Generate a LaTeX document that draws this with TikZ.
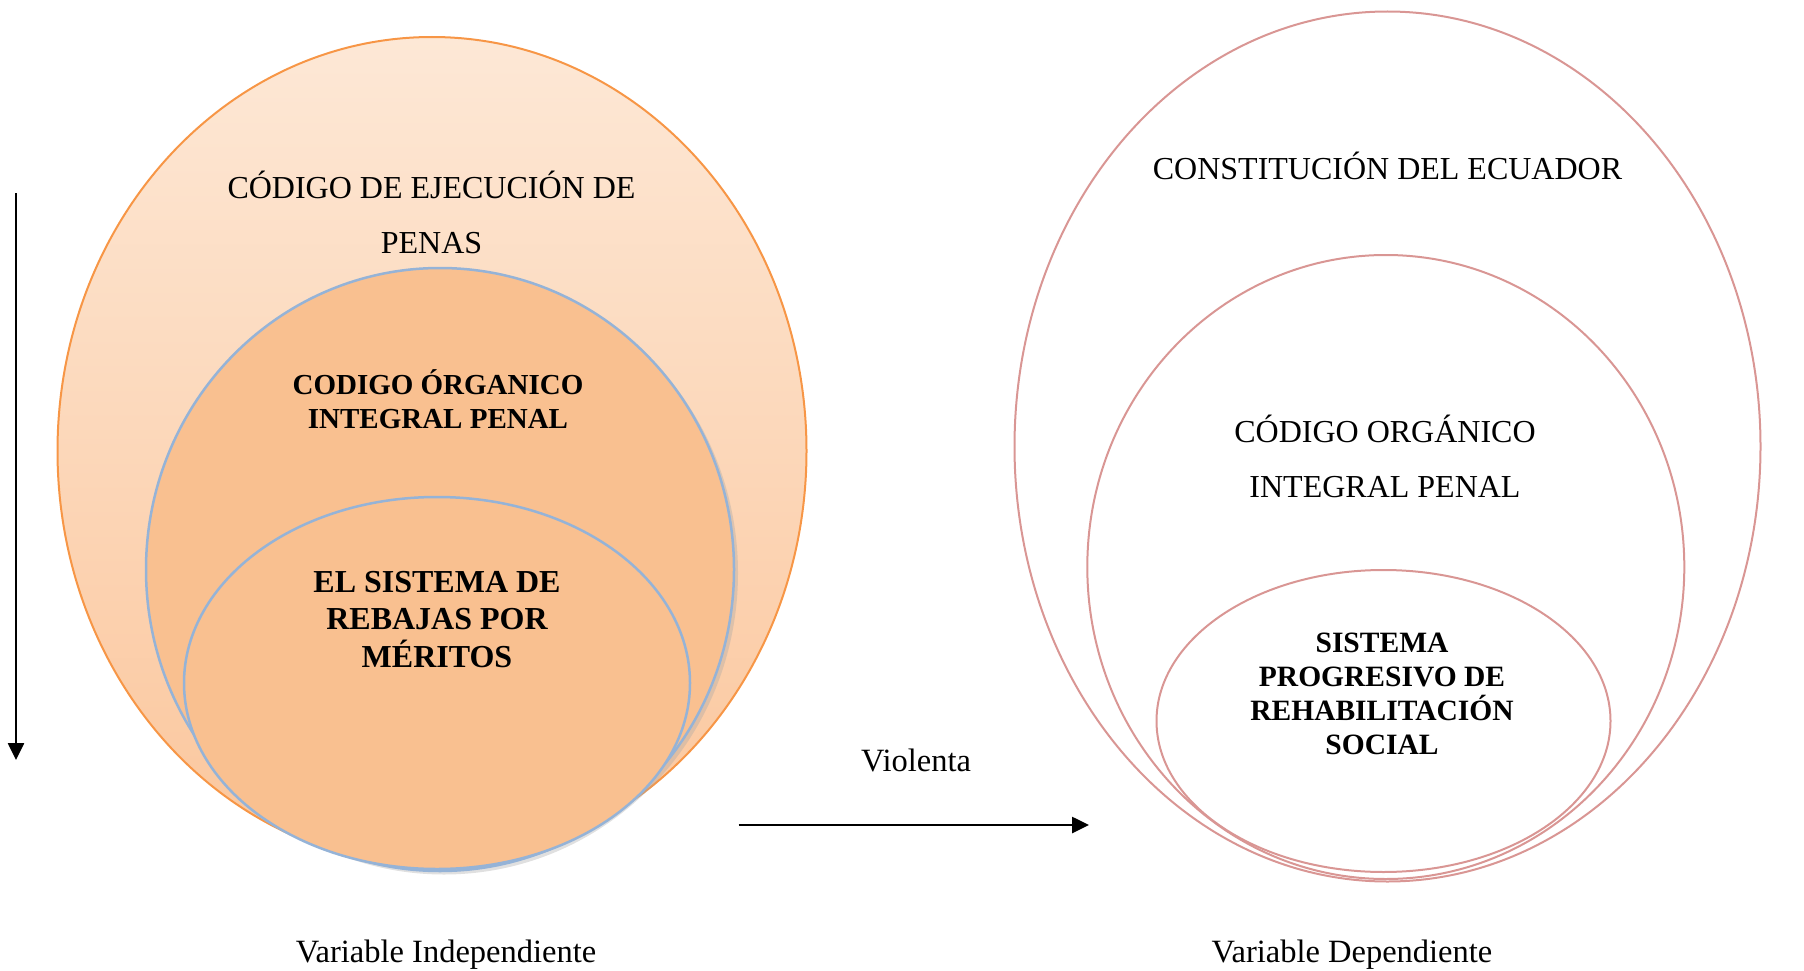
\documentclass[tikz,border=0pt]{standalone}
\usepackage{fontspec}
\setmainfont{Liberation Serif}
\usetikzlibrary{shapes.geometric,arrows.meta}
\definecolor{peachtop}{RGB}{253,232,214}
\definecolor{peachbot}{RGB}{251,198,156}
\definecolor{orangeline}{RGB}{247,150,70}
\definecolor{fillmid}{RGB}{249,192,144}
\definecolor{blueline}{RGB}{149,179,215}
\definecolor{pinkline}{RGB}{217,150,148}
\tikzset{
  ell/.style={ellipse, inner sep=0pt, outer sep=0pt},
  lbl/.style={align=center, inner sep=0pt, text=black},
  arr/.style={line width=2.6pt, -{Triangle[length=17pt,width=16pt]}},
}
\begin{document}
\begin{tikzpicture}[x=1pt,y=-1pt]
\useasboundingbox (0,0) rectangle (1804,971);
% left set
\node[ell, draw=orangeline, line width=2pt, top color=peachtop, bottom color=peachbot,
      minimum width=749pt, minimum height=828pt] (lo) at (432,451) {};
\node[ell, fill=black!35, opacity=0.35, minimum width=588pt, minimum height=603pt] (lmsh) at (444,573) {};
\node[ell, draw=blueline, line width=2.5pt, fill=fillmid,
      minimum width=588pt, minimum height=603pt] (lm) at (440,569.5) {};
\node[ell, draw=blueline, line width=2.5pt, fill=fillmid,
      minimum width=506pt, minimum height=372pt] (li) at (437,683) {};
\node[lbl, font=\fontsize{32}{55.6}\selectfont] (t1) at (431.5,212.5) {CÓDIGO DE EJECUCIÓN DE\\PENAS};
\node[lbl, font=\fontsize{29}{34.6}\selectfont\bfseries] (t2) at (438,399) {CODIGO ÓRGANICO\\INTEGRAL PENAL};
\node[lbl, font=\fontsize{32}{37.5}\selectfont\bfseries] (t3) at (437,619.5) {EL SISTEMA DE\\REBAJAS POR\\MÉRITOS};
% right set
\node[ell, draw=pinkline, line width=2pt, minimum width=746pt, minimum height=870pt] (ro) at (1387.5,446.5) {};
\node[ell, draw=pinkline, line width=2pt, minimum width=597pt, minimum height=624pt] (rm) at (1385.8,567) {};
\node[ell, draw=pinkline, line width=2pt, minimum width=454pt, minimum height=302pt] (ri) at (1383.5,721) {};
\node[lbl, font=\fontsize{32}{55}\selectfont] (t4) at (1387.5,165.5) {CONSTITUCIÓN DEL ECUADOR};
\node[lbl, font=\fontsize{32}{55.2}\selectfont] (t5) at (1385,456.5) {CÓDIGO ORGÁNICO\\INTEGRAL PENAL};
\node[lbl, font=\fontsize{29.5}{33.8}\selectfont\bfseries] (t6) at (1382,694) {SISTEMA\\PROGRESIVO DE\\REHABILITACIÓN\\SOCIAL};
% arrows and labels
\coordinate (va) at (16,193);
\coordinate (vb) at (16,760);
\draw[arr] (va) -- (vb);
\coordinate (ha) at (738.6,825);
\coordinate (hb) at (1089,825);
\draw[arr] (ha) -- (hb);
\node[lbl, font=\fontsize{32.5}{38}\selectfont] (viol) at (916,760.5) {Violenta};
\node[lbl, font=\fontsize{32.5}{38}\selectfont] (vi) at (446,955) {Variable Independiente};
\node[lbl, font=\fontsize{32.5}{38}\selectfont] (vd) at (1352,955) {Variable Dependiente};
\end{tikzpicture}
\end{document}
